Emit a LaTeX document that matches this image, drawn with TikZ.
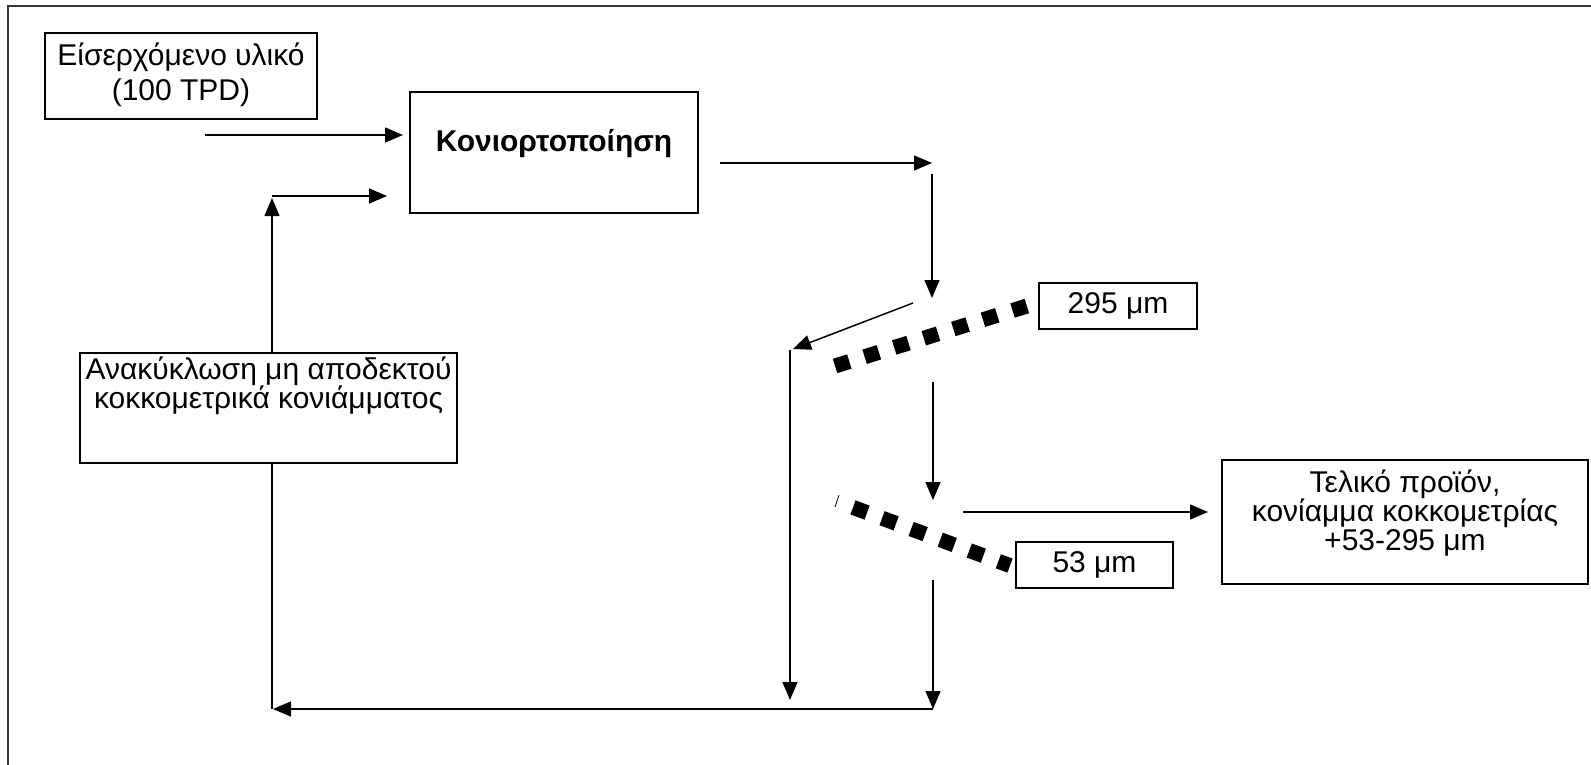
\documentclass[tikz,border=0pt]{standalone}
\usepackage{fontspec}
\setmainfont{Liberation Sans}
\usetikzlibrary{arrows.meta}
\begin{document}
\begin{tikzpicture}[x=1pt,y=-1pt,
  box/.style={draw, line width=1.5pt, inner sep=0pt},
  txt/.style={font=\fontsize{30}{29}\selectfont, align=center, inner sep=0pt},
  arr/.style={line width=1.5pt, -{Triangle[length=18pt,width=15pt]}},
  ln/.style={line width=1.5pt},
  sieve/.style={line width=15pt, dash pattern=on 15pt off 16pt},
]
\useasboundingbox (0,0) rectangle (1591,765);
\draw[line width=2.6pt, color=black!78] (8,765) -- (8,6) -- (1591,6);

% boxes
\node[box, minimum width=272pt, minimum height=86pt] (inbox) at (181,76) {};
\node[box, minimum width=288pt, minimum height=121pt] (konio) at (554,152.5) {};
\node[box, minimum width=158pt, minimum height=46pt, txt] (s295) at (1118,306) {295 μm};
\node[box, minimum width=157pt, minimum height=46pt, txt] (s53) at (1094.5,565) {53 μm};
\node[box, minimum width=366pt, minimum height=124pt] (prod) at (1405,522) {};
\node[box, minimum width=377pt, minimum height=110pt] (recy) at (268.5,408) {};

% texts
\node[txt] (inboxt) at (181,75) {Είσερχόμενο υλικό\\[6pt](100 TPD)};
\node[txt, font=\fontsize{30}{29}\selectfont\bfseries] (koniot) at (554,144) {Κονιορτοποίηση};
\node[txt] (prodt) at (1405,513) {Τελικό προϊόν,\\κονίαμμα κοκκομετρίας\\+53-295 μm};
\node[txt] (recyt) at (268.5,386) {Ανακύκλωση μη αποδεκτού\\κοκκομετρικά κονιάμματος};

% coordinates
\coordinate (a1s) at (205,135);
\coordinate (a1e) at (403,135);
\coordinate (rtop) at (272,353);
\coordinate (rup) at (272,198);
\coordinate (rcor) at (272,196);
\coordinate (rret) at (387,196);
\coordinate (k1) at (720,163);
\coordinate (k2) at (932,163);
\coordinate (v1s) at (932,174);
\coordinate (v1e) at (932,298);
\coordinate (d1s) at (913,303);
\coordinate (d1e) at (793,349);
\coordinate (sa1) at (835,366);
\coordinate (sa2) at (1027,306);
\coordinate (sb1) at (853,507.4);
\coordinate (sb2) at (1010,565.6);
\coordinate (t1) at (835,507);
\coordinate (t2) at (839,495);
\coordinate (v2s) at (933,382);
\coordinate (v2e) at (933,500);
\coordinate (h2s) at (963,512);
\coordinate (h2e) at (1208,512);
\coordinate (lvs) at (790,350);
\coordinate (lve) at (790,700);
\coordinate (rvs) at (933,580);
\coordinate (rve) at (933,709);
\coordinate (bl) at (273,709);
\coordinate (rbot) at (272,463);
\coordinate (rbl) at (272,709);

% connectors
\draw[arr] (a1s) -- (a1e);
\draw[arr] (rtop) -- (rup);
\draw[arr] (rcor) -- (rret);
\draw[ln] (rbot) -- (rbl);
\draw[arr] (k1) -- (k2);
\draw[arr] (v1s) -- (v1e);
\draw[arr] (d1s) -- (d1e);
\draw[sieve] (sa1) -- (sa2);
\draw[sieve] (sb1) -- (sb2);
\draw[line width=0.8pt] (t1) -- (t2);
\draw[arr] (v2s) -- (v2e);
\draw[arr] (h2s) -- (h2e);
\draw[arr] (lvs) -- (lve);
\draw[arr] (rvs) -- (rve);
\draw[arr] (rve) -- (bl);
\end{tikzpicture}
\end{document}
